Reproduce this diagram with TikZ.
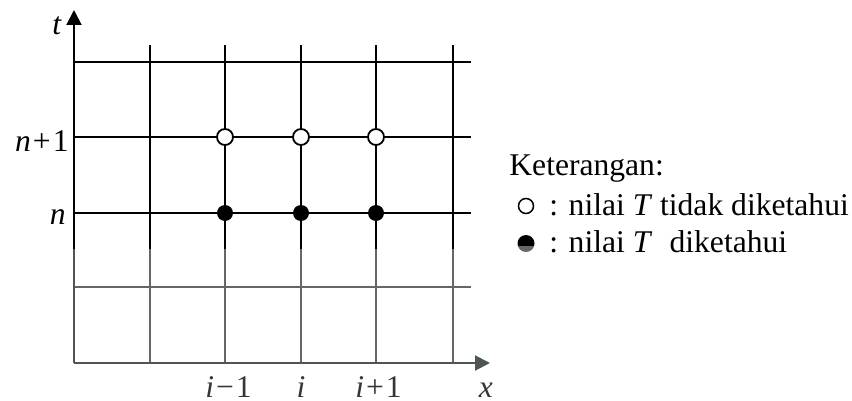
\documentclass[tikz,border=0pt]{standalone}
\usepackage{fontspec}
\setmainfont{Liberation Serif}
\usetikzlibrary{arrows.meta}
\definecolor{lowgray}{RGB}{102,102,102}
\definecolor{axgray}{RGB}{78,86,82}
\definecolor{txtgray}{RGB}{50,55,53}
\begin{document}
\begin{tikzpicture}[x=0.5pt,y=-0.5pt,
  grid/.style={line width=1pt,black},
  lowgrid/.style={line width=1pt,lowgray},
  axtip/.style={-{Triangle[length=7.5pt,width=7.5pt]}},
  unknown/.style={circle,draw=black,fill=white,line width=0.9pt,minimum size=8pt,inner sep=0pt},
  known/.style={circle,fill=black,minimum size=8pt,inner sep=0pt},
  lbl/.style={font=\fontsize{15.8}{18}\selectfont,inner sep=0pt},
  legtxt/.style={font=\fontsize{15.8}{18}\selectfont,inner sep=0pt,anchor=base west}]
\useasboundingbox (0,0) rectangle (852,401);
% coordinates
\coordinate (O) at (74,363);
\coordinate (Ytop) at (74,10);
\coordinate (Xend) at (490,363);
\foreach \x/\n in {150/a,225/b,301/c,376/d,453/e}{
  \coordinate (v\n top) at (\x,45);
  \coordinate (v\n mid) at (\x,249);
  \coordinate (v\n bot) at (\x,363);
}
\coordinate (y0mid) at (74,249);
\foreach \y/\n in {62/a,137/b,213/c}{
  \coordinate (h\n l) at (74,\y);
  \coordinate (h\n r) at (471,\y);
}
\coordinate (hdl) at (74,287);
\coordinate (hdr) at (471,287);
% lower gray part
\foreach \n in {a,b,c,d,e}{\draw[lowgrid] (v\n mid) -- (v\n bot);}
\draw[lowgrid] (hdl) -- (hdr);
\draw[line width=1pt,axgray] (y0mid) -- (O);
\draw[line width=1pt,axgray,axtip] (O) -- (Xend);
% upper black part
\foreach \n in {a,b,c,d,e}{\draw[grid] (v\n top) -- (v\n mid);}
\foreach \n in {a,b,c}{\draw[grid] (h\n l) -- (h\n r);}
\draw[grid,axtip] (y0mid) -- (Ytop);
% points
\foreach \x/\n in {225/1,301/2,376/3}{
  \node[unknown] (u\n) at (\x,137) {};
  \node[known] (k\n) at (\x,213) {};
}
% axis labels
\node[lbl,anchor=base] (tl) at (57,35) {\textit{t}};
\node[lbl,anchor=base east] (n1) at (69,152) {\textit{n}\kern1pt+\kern1pt1};
\node[lbl,anchor=base east] (n0) at (66,225) {\textit{n}};
\node[lbl,anchor=base,text=txtgray] (im) at (228.5,397) {\textit{i}\kern1pt−\kern1pt1};
\node[lbl,anchor=base,text=txtgray] (i0) at (301,397) {\textit{i}};
\node[lbl,anchor=base,text=txtgray] (ip) at (378.5,397) {\textit{i}\kern1pt+\kern1pt1};
\node[lbl,anchor=base,text=txtgray] (xl) at (486,397) {\textit{x}};
% legend
\node[legtxt] (ket) at (509,176) {Keterangan:};
\node[circle,draw=black,line width=0.75pt,minimum size=7.5pt,inner sep=0pt] (lc1) at (526,206) {};
\node[legtxt] (lt1) at (549,215) {: nilai \textit{T} tidak diketahui};
\coordinate (lc2) at (526,243.5);
\begin{scope}
\clip (lc2) circle (8.5);
\fill[black] (515,233) rectangle (538,246);
\fill[lowgray] (515,246) rectangle (538,255);
\end{scope}
\node[legtxt] (lt2) at (549,252) {: nilai \textit{T}\hspace{0.55em}diketahui};
\end{tikzpicture}
\end{document}
